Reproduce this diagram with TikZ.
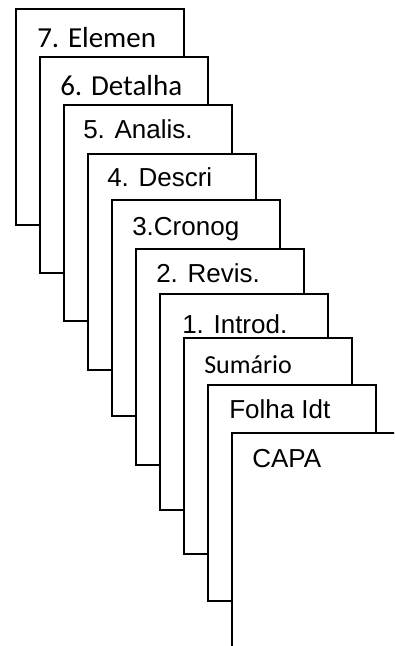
\documentclass[tikz,border=0pt]{standalone}
\usepackage{fontspec}
\newfontfamily\arialf{Liberation Sans}
\newfontfamily\calibrif{Carlito}
\begin{document}
\begin{tikzpicture}[x=0.75pt,y=-0.75pt]
\tikzset{
  sheet/.style={draw=black, fill=white, line width=1.5pt, anchor=north west, inner sep=0pt,
    minimum width=126pt, minimum height=162pt},
  lblA/.style={anchor=base west, inner sep=0pt, font=\arialf\fontsize{19.5}{22}\selectfont},
  lblC/.style={anchor=base west, inner sep=0pt, font=\calibrif\fontsize{21.75}{24}\selectfont},
  lblS/.style={anchor=base west, inner sep=0pt, font=\calibrif\fontsize{19.5}{22}\selectfont}
}
\useasboundingbox (0,0) rectangle (394,646);
\clip (0,0) rectangle (394,646);
\fill[white] (0,0) rectangle (394,646);
% pages back to front
\node[sheet] (p7) at (15,8) {};
\node[lblC] (t7) at (37,47) {7. Elemen};
\node[sheet] (p6) at (39,56) {};
\node[lblC] (t6) at (60,95) {6. Detalha};
\node[sheet] (p5) at (63,104) {};
\node[lblA] (t5) at (83,138) {5. Analis.};
\node[sheet] (p4) at (87,153) {};
\node[lblA] (t4) at (107,186) {4. Descri};
\node[sheet] (p3) at (111,199) {};
\node[lblA] (t3) at (132,235) {3.Cronog};
\node[sheet] (p2) at (135,248) {};
\node[lblA] (t2) at (156,282) {2. Revis.};
\node[sheet] (p1) at (159,293) {};
\node[lblA] (t1) at (182,333) {1. Introd.};
\node[sheet] (ps) at (183,337) {};
\node[lblS] (ts) at (204,373) {Sumário};
\node[sheet] (pf) at (207,384) {};
\node[lblA] (tf) at (229,418) {Folha Idt};
\node[sheet] (pc) at (231,432) {};
\node[lblA] (tc) at (252,467) {CAPA};
\end{tikzpicture}
\end{document}
